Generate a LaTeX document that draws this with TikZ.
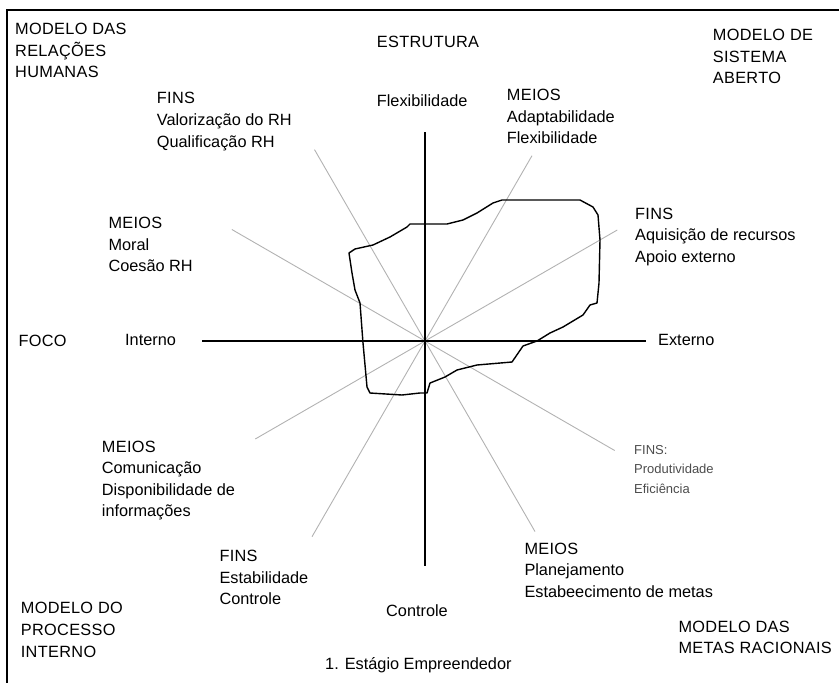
\documentclass[tikz,border=0pt]{standalone}
\usepackage{fontspec}
\setmainfont{Liberation Sans}
\usetikzlibrary{calc}
\newcommand\spc[1]{{\addfontfeature{LetterSpace=2}#1}}

\begin{document}
\begin{tikzpicture}[x=1pt,y=-1pt,
  lbl/.style={anchor=north west,inner sep=0pt,align=left,font=\fontsize{16.3}{21.6}\selectfont},
  small/.style={lbl,text=black!70,font=\fontsize{13}{19.5}\selectfont},
  ray/.style={draw=black!30,line width=0.9pt},
  axis/.style={draw,line width=1.3pt},
  blob/.style={draw,line width=1.4pt,line join=round}]
\useasboundingbox (0,0) rectangle (839,683);

% frame (top and left only)
\coordinate (fr-tl) at (7,10);
\coordinate (fr-tr) at (839,10);
\coordinate (fr-bl) at (7,683);
\draw[line width=1.6pt] (fr-tr) -- (fr-tl) -- (fr-bl);

% centre, rays and axes
\coordinate (c) at (425,341);
\foreach \a/\r in {30/222,60/214,120/221,150/223,210/196,240/226,300/220,330/219}{
  \coordinate (r\a) at ($(c)+(-\a:\r)$);
  \draw[ray] (c) -- (r\a);
}
\coordinate (ax-w) at (202,341);
\coordinate (ax-e) at (646,341);
\coordinate (ax-n) at (425,132);
\coordinate (ax-s) at (425,566);
\draw[axis] (ax-w) -- (ax-e);
\draw[axis] (ax-n) -- (ax-s);

% profile
\draw[blob] (349,253) -- (355,249) -- (373,245) -- (390,237) -- (407,227) -- (410,224)
  -- (447,224) -- (463,220) -- (477,213) -- (493,203) -- (502,200) -- (580,200)
  -- (593,207) -- (598,215) -- (600,240) -- (599,283) -- (597,303) -- (590,305)
  -- (583,315) -- (563,327) -- (550,333) -- (537,341) -- (523,346) -- (512,362)
  -- (477,365) -- (457,370) -- (445,377) -- (430,383) -- (427,393) -- (420,393)
  -- (402,395) -- (370,393) -- (367,387) -- (363,343) -- (360,303) -- (355,290)
  -- (352,273) -- cycle;

% corner models
\node[lbl] (mrh) at (15,23) {\spc{MODELO DAS}\\\spc{RELAÇÕES}\\\spc{HUMANAS}};
\node[lbl] (msa) at (712.7,29) {\spc{MODELO DE}\\\spc{SISTEMA}\\\spc{ABERTO}};
\node[lbl] (mpi) at (20.7,602.3) {\spc{MODELO DO}\\\spc{PROCESSO}\\\spc{INTERNO}};
\node[lbl] (mmr) at (678.3,620.6) {\spc{MODELO DAS}\\\spc{METAS RACIONAIS}};

% axis labels
\node[lbl] (est) at (376.7,35.6) {\spc{ESTRUTURA}};
\node[lbl] (flex) at (376.7,94) {Flexibilidade};
\node[lbl] (foco) at (18.3,334.5) {\spc{FOCO}};
\node[lbl] (int) at (125,334.5) {Interno};
\node[lbl] (ext) at (658,334.5) {Externo};
\node[lbl] (ctrl) at (386,604) {Controle};
\node[lbl] (stg) at (325,657.6) {1. Estágio Empreendedor};

% means and ends
\node[lbl] (fins1) at (156.7,92.3) {\spc{FINS}\\Valorização do RH\\Qualificação RH};
\node[lbl] (meios1) at (108.3,217) {\spc{MEIOS}\\Moral\\Coesão RH};
\node[lbl] (meios2) at (506.7,89) {\spc{MEIOS}\\Adaptabilidade\\Flexibilidade};
\node[lbl] (fins2) at (635,207.6) {\spc{FINS}\\Aquisição de recursos\\Apoio externo};
\node[lbl] (meios3) at (101.7,440.6) {\spc{MEIOS}\\Comunicação\\Disponibilidade de\\informações};
\node[lbl] (fins3) at (219.3,550) {\spc{FINS}\\Estabilidade\\Controle};
\node[small] (fins4) at (634,445) {FINS:\\Produtividade\\Eficiência};
\node[lbl] (meios4) at (524.3,542.6) {\spc{MEIOS}\\Planejamento\\Estabeecimento de metas};

\end{tikzpicture}
\end{document}
